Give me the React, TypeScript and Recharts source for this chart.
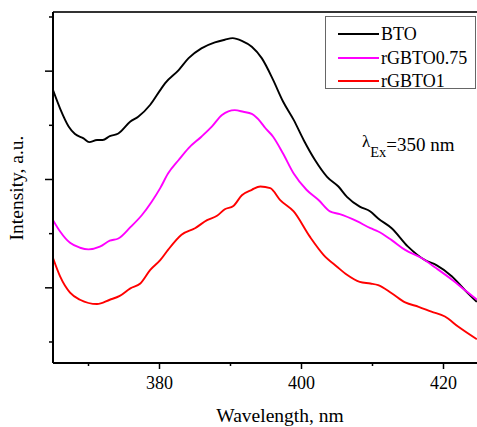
import React from 'react';
import { LineChart, Line, XAxis, YAxis, Legend } from 'recharts';

const btoWl = [365.0, 366.0, 367.2, 368.1, 369.3, 370.1, 371.2, 372.0, 373.0, 374.2, 375.9, 377.0, 378.7, 380.1, 380.8, 382.7, 384.1, 385.9, 387.8, 389.2, 390.3, 391.6, 393.0, 394.4, 396.0, 397.4, 398.9, 400.3, 401.9, 403.6, 405.2, 406.4, 408.2, 409.7, 410.8, 412.7, 415.0, 417.4, 419.0, 421.2, 423.0, 424.7];
const btoI = [5.65, 5.31, 4.98, 4.84, 4.76, 4.69, 4.73, 4.73, 4.80, 4.85, 5.07, 5.16, 5.38, 5.65, 5.78, 6.02, 6.24, 6.42, 6.53, 6.58, 6.61, 6.56, 6.45, 6.24, 5.84, 5.44, 5.10, 4.73, 4.36, 4.05, 3.87, 3.68, 3.50, 3.41, 3.28, 3.10, 2.76, 2.51, 2.42, 2.21, 1.96, 1.74];

const g075Wl = [365.0, 366.0, 367.4, 368.8, 370.0, 371.6, 373.0, 374.2, 375.9, 377.5, 378.9, 380.1, 381.2, 382.7, 384.1, 385.9, 387.4, 388.8, 390.6, 391.8, 393.0, 394.2, 394.9, 396.0, 397.4, 398.9, 400.7, 402.4, 404.0, 405.4, 407.8, 409.7, 410.8, 412.7, 414.6, 416.9, 419.0, 421.2, 423.0, 424.7];
const g075I = [3.25, 3.04, 2.83, 2.74, 2.71, 2.76, 2.87, 2.91, 3.12, 3.34, 3.59, 3.84, 4.11, 4.36, 4.58, 4.79, 4.98, 5.19, 5.28, 5.25, 5.21, 5.07, 4.95, 4.79, 4.48, 4.11, 3.81, 3.62, 3.41, 3.36, 3.23, 3.10, 3.04, 2.88, 2.70, 2.55, 2.36, 2.15, 1.96, 1.78];

const g1Wl = [365.0, 366.0, 367.4, 368.8, 371.2, 373.0, 374.4, 375.9, 377.3, 378.7, 380.1, 381.2, 383.1, 385.0, 386.7, 388.1, 389.2, 390.4, 391.6, 393.0, 394.2, 395.6, 397.0, 398.9, 401.2, 403.1, 405.0, 406.4, 408.2, 409.7, 410.8, 412.7, 414.6, 416.5, 418.3, 420.2, 422.1, 424.7];
const g1I = [2.55, 2.21, 1.91, 1.78, 1.70, 1.78, 1.85, 1.99, 2.08, 2.33, 2.51, 2.70, 2.98, 3.10, 3.25, 3.33, 3.45, 3.51, 3.71, 3.81, 3.87, 3.84, 3.62, 3.41, 2.94, 2.61, 2.39, 2.24, 2.11, 2.08, 2.05, 1.90, 1.73, 1.65, 1.56, 1.47, 1.28, 1.05];

const seriesNames = ['BTO', 'rGBTO0.75', 'rGBTO1'];
const seriesColors = ['#000000', '#ff00ff', '#ff0000'];

const xTicks = [370, 380, 390, 400, 410, 420];
const xLabeledTicks = [380, 400, 420];
const yTicks = [1, 2, 3, 4, 5, 6, 7];
const yMajorTicks = [2, 4, 6];

const xDomain = [365, 425];
const yDomain = [0.612, 7.092];

const toData = (wl: number[], v: number[]) => wl.map((w, i) => ({ wl: w, v: v[i] }));
const dataSets = [toData(btoWl, btoI), toData(g075Wl, g075I), toData(g1Wl, g1I)];

const FONT = "'Liberation Serif', Tinos, 'Times New Roman', Times, 'Noto Serif', 'DejaVu Serif', serif";

const XTick = (props: any) => {
  const { x, y, payload } = props;
  const major = xLabeledTicks.includes(payload.value);
  return (
    <g>
      <line x1={x} x2={x} y1={y} y2={y + (major ? 6 : 3)} stroke="#000" strokeWidth={1.5} />
      {major && (
        <text x={x} y={y + 26} textAnchor="middle" style={{ fontFamily: FONT }} fontSize={18} fill="#000">
          {payload.value}
        </text>
      )}
    </g>
  );
};

const YTick = (props: any) => {
  const { x, y, payload } = props;
  const major = yMajorTicks.includes(payload.value);
  return <line x1={x - (major ? 8 : 4)} x2={x} y1={y} y2={y} stroke="#000" strokeWidth={1.5} />;
};

const LegendBox = (props: any) => {
  const { payload } = props;
  const rowsY = [17, 40.5, 64];
  return (
    <div
      style={{
        position: 'relative',
        width: 151,
        height: 73,
        border: '1px solid #666',
        boxSizing: 'border-box',
        background: '#fff',
        fontFamily: FONT,
        fontSize: 18,
        color: '#000',
      }}
    >
      {(payload || []).map((p: any, i: number) => (
        <div key={i} style={{ position: 'absolute', left: 0, top: rowsY[i] - 11, height: 22, width: 150 }}>
          <svg width={44} height={22} style={{ position: 'absolute', left: 12, top: 0 }}>
            <line x1={0} x2={41} y1={11} y2={11} stroke={p.color} strokeWidth={2} />
          </svg>
          <span style={{ position: 'absolute', left: 55, top: 0, lineHeight: '22px', whiteSpace: 'nowrap', fontFamily: FONT }}>{p.value}</span>
        </div>
      ))}
    </div>
  );
};

export default function App() {
  return (
    <div style={{ position: 'absolute', left: 0, top: 0, width: 477, height: 427, overflow: 'hidden', background: '#fff', fontFamily: FONT }}>
      <LineChart width={485} height={427} margin={{ top: 2, right: 6, left: 0, bottom: 34 }} style={{ fontFamily: FONT }}>
        <XAxis
          xAxisId="bottom"
          dataKey="wl"
          type="number"
          domain={xDomain}
          ticks={xTicks}
          allowDataOverflow
          height={30}
          tickSize={0}
          tickMargin={0}
          tickLine={false}
          tick={<XTick />}
          axisLine={{ stroke: '#000', strokeWidth: 2 }}
        />
        <XAxis
          xAxisId="top"
          orientation="top"
          dataKey="wl"
          type="number"
          domain={xDomain}
          allowDataOverflow
          height={10}
          tick={false}
          tickLine={false}
          axisLine={{ stroke: '#333', strokeWidth: 2 }}
        />
        <YAxis
          dataKey="v"
          type="number"
          domain={yDomain}
          ticks={yTicks}
          allowDataOverflow
          width={53}
          tickSize={0}
          tickMargin={0}
          tickLine={false}
          tick={<YTick />}
          axisLine={{ stroke: '#000', strokeWidth: 2 }}
        />
        <Legend
          layout="horizontal"
          verticalAlign="middle"
          align="center"
          content={<LegendBox />}
          wrapperStyle={{ left: 325, top: 16, width: 151, height: 73, margin: 0 }}
        />
        {dataSets.map((d, i) => (
          <Line
            key={seriesNames[i]}
            xAxisId="bottom"
            data={d}
            dataKey="v"
            name={seriesNames[i]}
            stroke={seriesColors[i]}
            strokeWidth={1.9}
            dot={false}
            type="monotone"
            isAnimationActive={false}
          />
        ))}
      </LineChart>
      <svg width={477} height={427} style={{ position: 'absolute', left: 0, top: 0, pointerEvents: 'none', fontFamily: FONT }}>
        <text x={280} y={422} textAnchor="middle" style={{ fontFamily: FONT }} fontSize={19.5} fill="#000">
          Wavelength, nm
        </text>
        <text x={23} y={188} textAnchor="middle" style={{ fontFamily: FONT }} fontSize={19.5} fill="#000" transform="rotate(-90, 23, 188)">
          Intensity, a.u.
        </text>
        <text x={362} y={147} style={{ fontFamily: FONT }} fontSize={17} fill="#000">
          <tspan y={147}>λ</tspan>
          <tspan y={157} fontSize={14.5}>Ex</tspan>
          <tspan y={151} fontSize={19}>=350 nm</tspan>
        </text>
      </svg>
    </div>
  );
}
